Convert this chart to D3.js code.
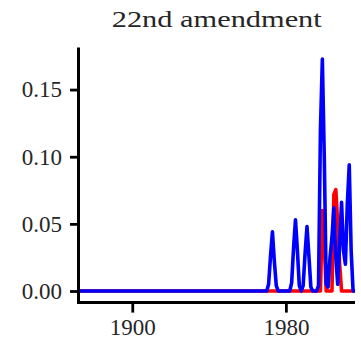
<!DOCTYPE html>
<html>
<head>
<meta charset="utf-8">
<script src="https://cdn.jsdelivr.net/npm/d3@7"></script>
<style>
  html, body { margin: 0; padding: 0; background: #fff; }
  svg { display: block; }
  text { font-family: "Liberation Serif", "Times New Roman", serif; }
</style>
</head>
<body>
<svg id="chart" width="361" height="347"></svg>
<script>
// ---- data ----
const title = "22nd amendment";
const years = [1872, 1969, 1970, 1971, 1972, 1973, 1974, 1975, 1976, 1977, 1978, 1979,
  1980, 1981, 1982, 1983, 1984, 1985, 1986, 1987, 1988, 1989, 1990, 1991, 1992, 1993,
  1994, 1995, 1996, 1997, 1998, 1999, 2000, 2001, 2002, 2003, 2004, 2005, 2006, 2007,
  2008, 2009, 2010, 2011, 2012, 2013, 2014, 2015, 2016];
const blueValues = [0, 0, 0, 0.005, 0.026, 0.044, 0.022, 0.004, 0, 0, 0, 0,
  0, 0, 0, 0.006, 0.032, 0.053, 0.030, 0.004, 0, 0.004, 0.028, 0.048, 0.026, 0.003,
  0, 0, 0, 0.004, 0.120, 0.1727, 0.100, 0.005, 0.003, 0.025, 0.040, 0.062, 0.025, 0.005,
  0.035, 0.066, 0.030, 0.020, 0.065, 0.094, 0.030, 0, 0];
const redValues = [0, 0, 0, 0, 0, 0, 0, 0, 0, 0, 0, 0,
  0, 0, 0, 0, 0, 0, 0, 0, 0, 0, 0, 0, 0, 0,
  0, 0, 0, 0, 0, 0.060, 0.035, 0, 0, 0, 0, 0.072, 0.0755, 0.050,
  0.020, 0, 0, 0, 0, 0, 0, 0, 0];
const xTickValues = [1900, 1980];
const yTickValues = [0, 0.05, 0.10, 0.15];

// ---- layout ----
const svg = d3.select("#chart");
const mLeft = 78.5, mRight = 355, mTop = 47.5, mBottom = 302.6;

const x = d3.scaleLinear().domain([1872, 2016]).range([mLeft, mRight]);
const yMax = d3.max(blueValues.concat(redValues));
const pad = yMax * 0.05;
const y = d3.scaleLinear().domain([-pad, yMax + pad]).range([mBottom, mTop]);

const line = d3.line()
  .x((d, i) => x(years[i]))
  .y(d => y(d));

// series: red first, blue on top
svg.append("path")
  .datum(redValues)
  .attr("d", line)
  .attr("fill", "none")
  .attr("stroke", "#ff0000")
  .attr("stroke-width", 3.6)
  .attr("stroke-linejoin", "round");

svg.append("path")
  .datum(blueValues)
  .attr("d", line)
  .attr("fill", "none")
  .attr("stroke", "#0000ff")
  .attr("stroke-width", 3.6)
  .attr("stroke-linejoin", "round");

// axes
const yAxis = d3.axisLeft(y).tickValues(yTickValues).tickFormat(d3.format(".2f"))
  .tickSize(8.5).tickPadding(8);
const xAxis = d3.axisBottom(x).tickValues(xTickValues).tickFormat(d3.format("d"))
  .tickSize(10).tickPadding(6);

const gy = svg.append("g").attr("transform", `translate(${mLeft},0)`).call(yAxis);
const gx = svg.append("g").attr("transform", `translate(0,${mBottom})`).call(xAxis);

[gy, gx].forEach(g => {
  g.select(".domain").remove();
  g.selectAll(".tick line").attr("stroke", "#000").attr("stroke-width", 2.8);
  g.selectAll(".tick text")
    .attr("fill", "#262626")
    .style("font-family", '"Liberation Serif", "Times New Roman", serif')
    .style("font-size", "23px");
});

// axis lines
svg.append("line")
  .attr("x1", mLeft).attr("x2", mLeft)
  .attr("y1", mTop).attr("y2", mBottom + 1.5)
  .attr("stroke", "#000").attr("stroke-width", 3);
svg.append("line")
  .attr("x1", mLeft - 1.5).attr("x2", mRight)
  .attr("y1", mBottom).attr("y2", mBottom)
  .attr("stroke", "#000").attr("stroke-width", 3);

// title
svg.append("text")
  .attr("x", (mLeft + mRight) / 2)
  .attr("y", 27)
  .attr("text-anchor", "middle")
  .attr("fill", "#262626")
  .attr("textLength", 210)
  .attr("lengthAdjust", "spacingAndGlyphs")
  .style("font-size", "24px")
  .text(title);
</script>
</body>
</html>
